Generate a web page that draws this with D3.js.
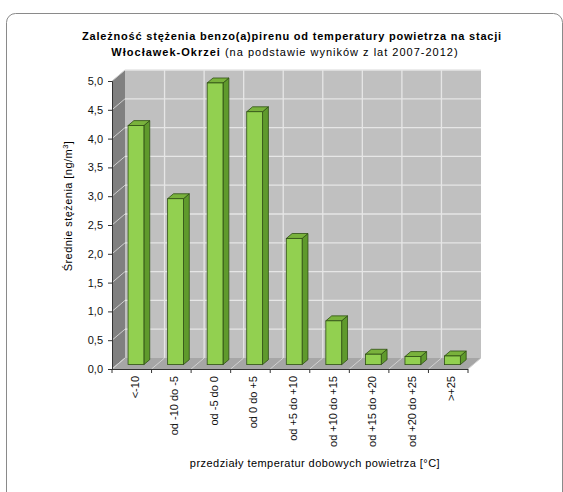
<!DOCTYPE html>
<html>
<head>
<meta charset="utf-8">
<script src="https://cdn.jsdelivr.net/npm/d3@7"></script>
<style>
  html, body { margin: 0; padding: 0; background: #fff; }
  svg { display: block; font-family: "Liberation Sans", Arial, sans-serif; }
</style>
</head>
<body>
<svg id="chart" width="563" height="492"></svg>
<script>
// Temperature ranges (daily mean air temperature)
const categories = ["<-10", "od -10 do -5", "od -5 do 0", "od 0 do +5", "od +5 do +10",
                    "od +10 do +15", "od +15 do +20", "od +20 do +25", ">+25"];
// Mean benzo(a)pyrene concentration [ng/m3]
const values = [4.15, 2.88, 4.89, 4.39, 2.19, 0.76, 0.18, 0.14, 0.15];
// Value axis ticks
const yTicks = [0, 0.5, 1, 1.5, 2, 2.5, 3, 3.5, 4, 4.5, 5];

(function draw() {
  const svg = d3.select("#chart");

  // Outer frame
  svg.append("rect")
    .attr("x", 6.5).attr("y", 13.5).attr("width", 556).attr("height", 490)
    .attr("rx", 9).attr("fill", "#fff").attr("stroke", "#8a8a8a").attr("stroke-width", 1);

  // Plot area and 3D depth
  const pl = 112, pr = 468, pb = 369, pt = 81;
  const DX = 13, DY = -11;

  const x = d3.scaleBand().domain(categories).range([pl, pr]).padding(0);
  const y = d3.scaleLinear().domain([0, 5]).range([pb, pt]);

  const g = svg.append("g");

  // Back wall
  g.append("polygon")
    .attr("points", [[pl + DX, pb + DY], [pr + DX, pb + DY], [pr + DX, pt + DY], [pl + DX, pt + DY]].join(" "))
    .attr("fill", "#c0c0c0");

  // Side wall
  g.append("polygon")
    .attr("points", [[pl, pb], [pl + DX, pb + DY], [pl + DX, pt + DY], [pl, pt]].join(" "))
    .attr("fill", "#808080");

  // Floor
  g.append("polygon")
    .attr("points", [[pl, pb], [pr, pb], [pr + DX, pb + DY], [pl + DX, pb + DY]].join(" "))
    .attr("fill", "#a6a6a6");

  // Horizontal gridlines on back wall + diagonals on side wall
  yTicks.forEach(t => {
    if (t > 0) {
      g.append("line")
        .attr("x1", pl + DX).attr("x2", pr + DX)
        .attr("y1", y(t) + DY).attr("y2", y(t) + DY)
        .attr("stroke", "#e6e6e6").attr("stroke-width", 1.3);
    }
    g.append("line")
      .attr("x1", pl).attr("y1", y(t))
      .attr("x2", pl + DX).attr("y2", y(t) + DY)
      .attr("stroke", "#cfcfcf").attr("stroke-width", 1);
  });

  // Vertical gridlines on back wall + diagonals on floor at category boundaries
  const bounds = categories.map(c => x(c)).concat([pr]);
  bounds.forEach((b, i) => {
    if (i > 0 && i < bounds.length - 1) {
      g.append("line")
        .attr("x1", b + DX).attr("x2", b + DX)
        .attr("y1", pb + DY).attr("y2", pt + DY)
        .attr("stroke", "#e6e6e6").attr("stroke-width", 1.3);
    }
    g.append("line")
      .attr("x1", b).attr("y1", pb)
      .attr("x2", b + DX).attr("y2", pb + DY)
      .attr("stroke", "#d2d2d2").attr("stroke-width", 1);
  });

  // Bars (front, side, top faces)
  const f0 = 0.4, f1 = 0.85;
  const barW = x.bandwidth() * 0.4;
  const bars = g.append("g");
  categories.forEach((c, i) => {
    const v = values[i];
    const x0 = x(c) + (x.bandwidth() - barW) / 2 - 1 + f0 * DX;
    const x1 = x0 + barW;
    const yb = y(0) + f0 * DY;
    const yt = y(v) + f0 * DY;
    const ddx = (f1 - f0) * DX, ddy = (f1 - f0) * DY;
    // side
    bars.append("polygon")
      .attr("points", [[x1, yb], [x1 + ddx, yb + ddy], [x1 + ddx, yt + ddy], [x1, yt]].join(" "))
      .attr("fill", "#5f9a2c").attr("stroke", "#2f4f14").attr("stroke-width", 0.8).attr("stroke-linejoin", "round");
    // top
    bars.append("polygon")
      .attr("points", [[x0, yt], [x1, yt], [x1 + ddx, yt + ddy], [x0 + ddx, yt + ddy]].join(" "))
      .attr("fill", "#79b23c").attr("stroke", "#2f4f14").attr("stroke-width", 0.8).attr("stroke-linejoin", "round");
    // front
    bars.append("rect")
      .attr("x", x0).attr("y", yt).attr("width", barW).attr("height", yb - yt)
      .attr("fill", "#92d050").attr("stroke", "#2f4f14").attr("stroke-width", 0.8);
  });

  // Y axis
  const yAxis = d3.axisLeft(y).tickValues(yTicks).tickSize(4).tickPadding(5)
    .tickFormat(d => d3.format(".1f")(d).replace(".", ","));
  const ya = svg.append("g").attr("transform", `translate(${pl},0)`).call(yAxis);
  ya.select(".domain").attr("stroke", "#333");
  ya.selectAll(".tick line").attr("stroke", "#333");
  ya.selectAll(".tick text").attr("font-size", 11).attr("fill", "#111")
    .attr("font-family", "Liberation Sans, Arial, sans-serif");

  // X axis (front floor edge)
  svg.append("line").attr("x1", pl).attr("x2", pr).attr("y1", pb + 0.5).attr("y2", pb + 0.5)
    .attr("stroke", "#333");
  bounds.forEach(b => {
    svg.append("line").attr("x1", b).attr("x2", b).attr("y1", pb).attr("y2", pb + 4)
      .attr("stroke", "#333");
  });

  // Category labels (rotated)
  svg.append("g").selectAll("text").data(categories).join("text")
    .attr("transform", d => `translate(${x(d) + x.bandwidth() / 2 + 3},${pb + 7}) rotate(-90)`)
    .attr("text-anchor", "end")
    .attr("dominant-baseline", "central")
    .attr("font-size", 11).attr("fill", "#111")
    .text(d => d);

  // Titles
  svg.append("text").attr("x", 292).attr("y", 40)
    .attr("text-anchor", "middle").attr("font-size", 11).attr("font-weight", "bold").attr("fill", "#000")
    .attr("letter-spacing", 0.8)
    .text("Zależność stężenia benzo(a)pirenu od temperatury powietrza na stacji");
  const sub = svg.append("text").attr("x", 285).attr("y", 56)
    .attr("text-anchor", "middle").attr("font-size", 11).attr("fill", "#000")
    .attr("letter-spacing", 1.0);
  sub.append("tspan").attr("font-weight", "bold").text("Włocławek-Okrzei ");
  sub.append("tspan").text("(na podstawie wyników z lat 2007-2012)");

  // Axis titles
  const yTitle = svg.append("text")
    .attr("transform", "translate(72,206) rotate(-90)")
    .attr("text-anchor", "middle").attr("font-size", 11).attr("fill", "#000")
    .attr("letter-spacing", 0.45);
  yTitle.append("tspan").text("Średnie stężenia [ng/m");
  yTitle.append("tspan").attr("font-size", 7.5).attr("dy", -4).text("3");
  yTitle.append("tspan").attr("dy", 4).text("]");

  svg.append("text").attr("x", 315).attr("y", 467)
    .attr("text-anchor", "middle").attr("font-size", 11).attr("fill", "#000")
    .attr("letter-spacing", 0.45)
    .text("przedziały temperatur dobowych powietrza [°C]");
})();
</script>
</body>
</html>
